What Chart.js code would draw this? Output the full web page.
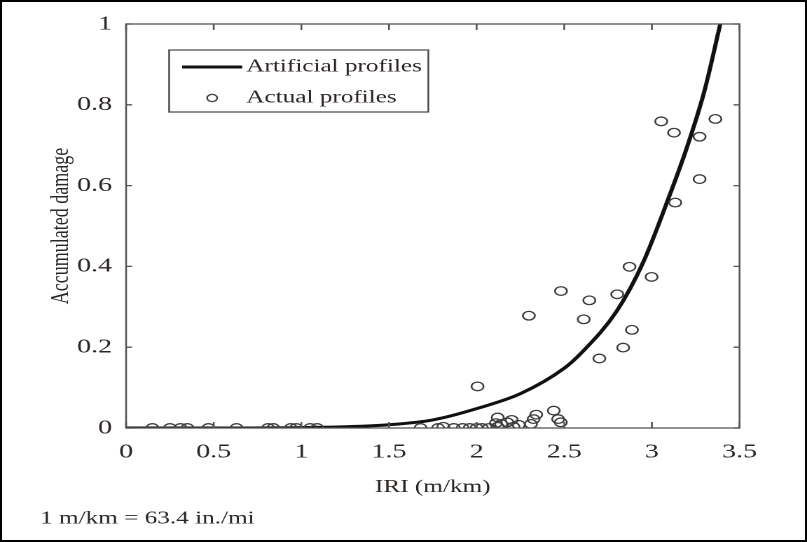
<!DOCTYPE html>
<html>
<head>
<meta charset="utf-8">
<script src="https://cdn.jsdelivr.net/npm/chart.js@4/dist/chart.umd.min.js"></script>
<style>
  html, body { margin: 0; padding: 0; background: #fff; }
  #wrap { position: relative; width: 807px; height: 542px; overflow: hidden; background: #fff; }
  #frame { position: absolute; left: 0; top: 0; width: 807px; height: 542px; box-sizing: border-box;
           border: 2px solid #000; pointer-events: none; }
</style>
</head>
<body>
<div id="wrap"><canvas id="c"></canvas><div id="frame"></div></div>
<script>
// Artificial profiles: accumulated damage as a function of IRI
const iriCurve    = [0, 0.5, 1.0, 1.25, 1.5, 1.75, 2.0, 2.25, 2.5, 2.6, 2.8, 2.95, 3.1, 3.2, 3.3, 3.39];
const damageCurve = [0, 0, 0.001, 0.003, 0.008, 0.02, 0.048, 0.085, 0.148, 0.187, 0.29, 0.41, 0.575, 0.695, 0.835, 1.0];

// Actual profiles
const iriActual = [
  0.15, 0.25, 0.31, 0.35, 0.47, 0.63, 0.81, 0.84, 0.94, 0.97, 1.05, 1.09,
  1.68, 1.78, 1.81, 1.87, 1.92, 1.96, 2.0, 2.03, 2.07, 2.11, 2.12, 2.12, 2.14, 2.175, 2.2, 2.21, 2.24,
  2.31, 2.325, 2.34, 2.44, 2.465, 2.48,
  2.005, 2.298, 2.481, 2.611, 2.643, 2.70, 2.802, 2.836, 2.872, 2.886, 2.998,
  3.053, 3.126, 3.133, 3.272, 3.272, 3.362
];
const damageActual = [
  0, 0, 0, 0, 0, 0, 0, 0, 0, 0, 0, 0,
  0, 0, 0.003, 0, 0, 0, 0, 0, 0, 0.012, 0.003, 0.026, 0.01, 0.014, 0.02, 0.003, 0.008,
  0.01, 0.022, 0.033, 0.043, 0.022, 0.014,
  0.103, 0.278, 0.339, 0.269, 0.316, 0.172, 0.331, 0.199, 0.399, 0.243, 0.374,
  0.759, 0.731, 0.558, 0.721, 0.616, 0.765
];

const xTicks = [0, 0.5, 1, 1.5, 2, 2.5, 3, 3.5];
const xTickLabels = ['0', '0.5', '1', '1.5', '2', '2.5', '3', '3.5'];
const yTicks = [0, 0.2, 0.4, 0.6, 0.8, 1];
const yTickLabels = ['0', '0.2', '0.4', '0.6', '0.8', '1'];
const seriesNames = ['Artificial profiles', 'Actual profiles'];
const xTitle = 'IRI (m/km)';
const yTitle = 'Accumulated damage';
const unitNote = '1 m/km = 63.4 in./mi';

// The figure is drawn on a narrower canvas and widened to the page width.
const SX = 1.4;
const W = Math.round(807 / SX), H = 542;
const PLOT = { left: 126 / SX, right: 739 / SX, top: 24, bottom: 428 };
const SERIF = "'Liberation Serif', 'Times New Roman', serif";
const INK = '#2b2624';
const AXIS = '#555';

const canvas = document.getElementById('c');
canvas.width = W;
canvas.height = H;
canvas.style.width = '807px';
canvas.style.height = '542px';

const curvePts = iriCurve.map((x, i) => ({ x, y: damageCurve[i] }));
const actualPts = iriActual.map((x, i) => ({ x, y: damageActual[i] }));

// frame with inward ticks, legend box and unit note
const decorations = {
  id: 'decorations',
  afterDraw(chart) {
    const { ctx, chartArea: a, scales: { x, y } } = chart;
    ctx.save();
    ctx.strokeStyle = AXIS;
    ctx.lineWidth = 1.3;
    ctx.strokeRect(a.left, a.top, a.right - a.left, a.bottom - a.top);
    const tl = 6;
    ctx.beginPath();
    xTicks.forEach(v => {
      const px = x.getPixelForValue(v);
      ctx.moveTo(px, a.bottom); ctx.lineTo(px, a.bottom - tl);
      ctx.moveTo(px, a.top); ctx.lineTo(px, a.top + tl);
    });
    yTicks.forEach(v => {
      const py = y.getPixelForValue(v);
      ctx.moveTo(a.left, py); ctx.lineTo(a.left + tl / SX, py);
      ctx.moveTo(a.right, py); ctx.lineTo(a.right - tl / SX, py);
    });
    ctx.stroke();

    // legend
    const lb = { l: 169 / SX, t: 50, r: 428 / SX, b: 112 };
    ctx.fillStyle = '#fff';
    ctx.fillRect(lb.l, lb.t, lb.r - lb.l, lb.b - lb.t);
    ctx.strokeStyle = '#444';
    ctx.lineWidth = 1.2;
    ctx.strokeRect(lb.l, lb.t, lb.r - lb.l, lb.b - lb.t);
    const ds0 = chart.data.datasets[0], ds1 = chart.data.datasets[1];
    ctx.strokeStyle = ds0.borderColor;
    ctx.lineWidth = ds0.borderWidth;
    ctx.beginPath();
    ctx.moveTo(182 / SX, 67); ctx.lineTo(242 / SX, 67);
    ctx.stroke();
    ctx.strokeStyle = ds1.borderColor;
    ctx.lineWidth = 1.2;
    ctx.beginPath();
    ctx.arc(212 / SX, 98, 3.6, 0, Math.PI * 2);
    ctx.stroke();
    ctx.fillStyle = INK;
    ctx.font = `18px ${SERIF}`;
    ctx.textBaseline = 'middle';
    ctx.textAlign = 'left';
    ctx.fillText(ds0.label, 246 / SX, 67);
    ctx.fillText(ds1.label, 246 / SX, 98);

    // unit note
    ctx.font = `18px ${SERIF}`;
    ctx.fillText(unitNote, 40 / SX, 519);
    ctx.restore();
  }
};

new Chart(canvas, {
  type: 'scatter',
  data: {
    datasets: [
      {
        label: seriesNames[0],
        data: curvePts,
        showLine: true,
        borderColor: '#111',
        borderWidth: 3,
        pointRadius: 0,
        cubicInterpolationMode: 'monotone',
        order: 1
      },
      {
        label: seriesNames[1],
        data: actualPts,
        showLine: false,
        pointStyle: 'circle',
        pointRadius: 4.3,
        borderColor: '#3d3d3d',
        backgroundColor: 'rgba(0,0,0,0)',
        borderWidth: 1.3,
        order: 0
      }
    ]
  },
  options: {
    responsive: false,
    animation: false,
    devicePixelRatio: 2,
    layout: { padding: { left: 0, top: PLOT.top, right: W - PLOT.right, bottom: 0 } },
    plugins: { legend: { display: false }, tooltip: { enabled: false } },
    scales: {
      x: {
        type: 'linear', min: 0, max: 3.5,
        afterFit: s => { s.height = H - PLOT.bottom; },
        afterBuildTicks: s => { s.ticks = xTicks.map(v => ({ value: v })); },
        grid: { display: false, drawTicks: false },
        border: { display: false },
        ticks: {
          padding: 12,
          color: INK,
          font: { family: SERIF, size: 20 },
          maxRotation: 0,
          callback: (v, i) => xTickLabels[i]
        },
        title: {
          display: true, text: xTitle, color: INK,
          font: { family: SERIF, size: 18 },
          padding: { top: 0, bottom: 44 }
        }
      },
      y: {
        type: 'linear', min: 0, max: 1,
        afterFit: s => { s.width = PLOT.left; },
        afterBuildTicks: s => { s.ticks = yTicks.map(v => ({ value: v })); },
        grid: { display: false, drawTicks: false },
        border: { display: false },
        ticks: {
          padding: 14 / SX,
          color: INK,
          font: { family: SERIF, size: 20 },
          callback: (v, i) => yTickLabels[i]
        },
        title: {
          display: true, text: yTitle, color: INK,
          font: { family: SERIF, size: 18 },
          padding: { top: 61 / SX - 10.8, bottom: 0 }
        }
      }
    }
  },
  plugins: [decorations]
});
</script>
</body>
</html>
